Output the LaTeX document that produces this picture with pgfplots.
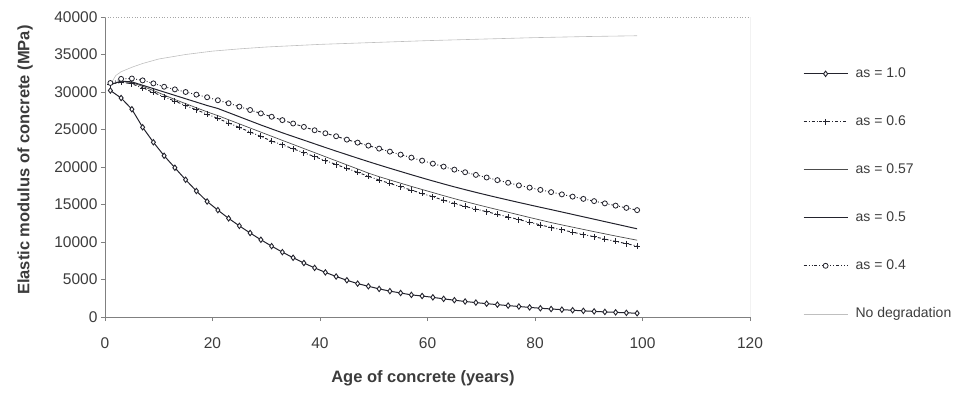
\documentclass[border=0pt]{standalone}
\usepackage{fontspec}
\setmainfont{Liberation Sans}
\usepackage{pgfplots}
\usepackage{pgfplotstable}
\pgfplotsset{compat=1.18}
\pgfplotstableread{
u a10 a06 a057 a05 a04
1 30200 31000 31000 31000 31200
3 29200 31300 31400 31450 31750
5 27700 31100 31250 31350 31800
7 25300 30520 30750 30900 31550
9 23300 29940 30200 30450 31150
11 21500 29360 29600 30000 30700
13 19900 28780 29000 29550 30350
15 18300 28200 28450 29100 30000
17 16800 27620 27900 28650 29650
19 15400 27050 27350 28200 29300
21 14250 26470 26850 27800 28900
23 13150 25870 26300 27250 28500
25 12150 25270 25750 26700 28050
27 11200 24670 25200 26150 27600
29 10300 24070 24650 25600 27150
31 9450 23470 24100 25080 26700
33 8650 22950 23550 24560 26250
35 7900 22430 23010 24070 25800
37 7200 21900 22460 23580 25350
39 6550 21380 21920 23090 24900
41 5950 20860 21370 22600 24500
43 5400 20330 20830 22120 24100
45 4900 19810 20280 21650 23650
47 4450 19290 19740 21180 23250
49 4100 18770 19190 20720 22850
51 3750 18260 18710 20270 22450
53 3450 17810 18270 19830 22050
55 3200 17360 17840 19400 21650
57 2950 16920 17410 18970 21250
59 2800 16470 17000 18550 20850
61 2620 16020 16590 18140 20450
63 2420 15580 16180 17740 20050
65 2240 15130 15780 17350 19650
67 2070 14740 15400 16980 19300
69 1920 14390 15030 16620 18950
71 1780 14040 14670 16270 18600
73 1650 13690 14320 15930 18250
75 1520 13340 13970 15600 17900
77 1400 12990 13620 15270 17550
79 1280 12630 13270 14950 17250
81 1170 12280 12930 14630 16950
83 1070 11930 12590 14320 16650
85 980 11620 12280 14000 16350
87 900 11310 11980 13680 16050
89 820 11000 11680 13360 15750
91 750 10700 11380 13040 15450
93 680 10390 11090 12720 15150
95 620 10080 10800 12400 14850
97 560 9780 10520 12080 14550
99 500 9470 10240 11760 14250
}\datatable
\pgfplotstableread{
u nd
1 31000
2 32200
3 32700
5 33300
7 33800
10 34400
15 35000
20 35450
25 35750
30 36000
40 36350
50 36600
60 36850
70 37050
80 37250
90 37400
99 37500
}\ndtable
\definecolor{txt}{RGB}{60,60,60}
\definecolor{ln}{RGB}{35,35,45}
\begin{document}
\begin{tikzpicture}
\useasboundingbox (0,0) rectangle (958pt,392pt);
\begin{axis}[
  at={(105pt,75pt)}, anchor=south west,
  scale only axis, width=645pt, height=300pt,
  xmin=0, xmax=120, ymin=0, ymax=40000,
  xtick={0,20,...,120}, ytick={0,5000,...,40000},
  axis x line*=bottom, axis y line*=left,
  axis line style={gray, line width=0.7pt},
  tick align=outside, major tick length=4pt,
  tick style={gray, line width=0.6pt},
  scaled y ticks=false,
  /pgf/number format/assume math mode=true,
  /pgf/number format/1000 sep={},
  ticklabel style={font=\fontsize{15.5}{18}\selectfont, text=txt},
  xticklabel style={yshift=-13pt},
  xlabel={Age of concrete (years)},
  ylabel={Elastic modulus of concrete (MPa)},
  label style={font=\fontsize{16.5}{20}\selectfont\bfseries, text=txt},
  xlabel style={at={(axis description cs:0.493,-0.203)}, anchor=center},
  ylabel style={at={(axis description cs:-0.124,0.523)}, anchor=center},
  legend style={at={(axis description cs:1.082,0.833)}, anchor=north west,
    draw=none, fill=none, inner sep=0pt, row sep=35pt, column sep=4pt,
    font=\fontsize{14}{17}\selectfont, text=txt,
    nodes={inner sep=0pt, inner xsep=3.5pt, text height=10pt, text depth=3pt}},
  legend cell align=left,
  legend image code/.code={\draw[mark repeat=2,mark phase=2,#1] plot coordinates {(0pt,0pt) (22pt,0pt) (44pt,0pt)};},
]
\addplot[ln, line width=1pt, mark=diamond*, mark size=2.7pt, mark options={solid, fill=white, draw=ln, line width=0.9pt}] table[x=u,y=a10] {\datatable};
\addlegendentry{as = 1.0}
\addplot[ln, line width=0.9pt, dash dot, mark=+, mark size=3pt, mark options={solid, draw=ln, line width=0.8pt}] table[x=u,y=a06] {\datatable};
\addlegendentry{as = 0.6}
\addplot[black!70, line width=0.7pt] table[x=u,y=a057] {\datatable};
\addlegendentry{as = 0.57}
\addplot[ln, line width=1pt] table[x=u,y=a05] {\datatable};
\addlegendentry{as = 0.5}
\addplot[ln, line width=0.9pt, dash dot dot, mark=*, mark size=2.5pt, mark options={solid, fill=white, draw=ln, line width=0.8pt}] table[x=u,y=a04] {\datatable};
\addlegendentry{as = 0.4}
\addplot[black!25, line width=0.6pt] table[x=u,y=nd] {\ndtable};
\addlegendentry{No degradation}
\draw[gray!70, dotted, line width=0.7pt] (rel axis cs:0,1) -- (rel axis cs:1,1);
\draw[gray!80, line width=0.6pt] (rel axis cs:1,0) -- (rel axis cs:1,1);
\end{axis}
\end{tikzpicture}
\end{document}
